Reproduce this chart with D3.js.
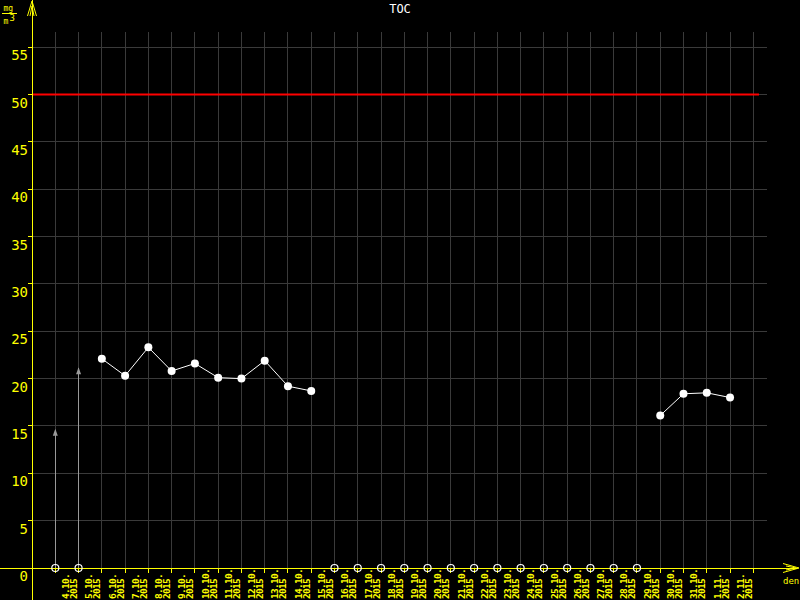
<!DOCTYPE html>
<html>
<head>
<meta charset="utf-8">
<script src="https://cdn.jsdelivr.net/npm/d3@7"></script>
<style>
body { margin: 0; background: #000; }
svg { display: block; background: #000; }
</style>
</head>
<body>
<div id="graph"></div>
<script>
// day labels (one per measured day)
var days = ["4.10.", "5.10.", "6.10.", "7.10.", "8.10.", "9.10.", "10.10.", "11.10.", "12.10.", "13.10.",
	"14.10.", "15.10.", "16.10.", "17.10.", "18.10.", "19.10.", "20.10.", "21.10.", "22.10.", "23.10.",
	"24.10.", "25.10.", "26.10.", "27.10.", "28.10.", "29.10.", "30.10.", "31.10.", "1.11.", "2.11."];
var year = "2015";
// TOC values in mg/m3, null = no value
var values = [null, null, 22.1, 20.3, 23.3, 20.8, 21.6, 20.1, 20.0, 21.9,
	19.2, 18.7, null, null, null, null, null, null, null, null,
	null, null, null, null, null, null, 16.1, 18.4, 18.5, 18.0];
// grey arrows on the first two days
var arrows = [14.6, 21.1];
var limit = 50;
var yTicks = [0, 5, 10, 15, 20, 25, 30, 35, 40, 45, 50, 55];

var width = 800, height = 600;
var axisX = 32, axisY = 568;

var xScale = d3.scaleLinear().domain([0, 30]).range([55.3, 753.3]);
var yScale = d3.scaleLinear().domain([0, 55]).range([axisY, 47.2]);

var yellow = "#ffff00", grid = "#3a3a3a";
var mono = "'DejaVu Sans Mono', monospace";

var svg = d3.select("div#graph").append("svg")
	.attr("width", width)
	.attr("height", height);

// grid
svg.append("g").selectAll("line").data(d3.range(0, 31)).enter().append("line")
	.attr("x1", function(d) { return xScale(d); })
	.attr("x2", function(d) { return xScale(d); })
	.attr("y1", 32).attr("y2", axisY)
	.attr("stroke", grid).attr("stroke-width", 1).attr("shape-rendering", "crispEdges");
svg.append("g").selectAll("line").data(yTicks.slice(1)).enter().append("line")
	.attr("x1", axisX).attr("x2", 766.5)
	.attr("y1", function(d) { return yScale(d); })
	.attr("y2", function(d) { return yScale(d); })
	.attr("stroke", grid).attr("stroke-width", 1).attr("shape-rendering", "crispEdges");

// limit line
svg.append("line")
	.attr("x1", axisX).attr("x2", 759)
	.attr("y1", yScale(limit)).attr("y2", yScale(limit))
	.attr("stroke", "#ff0000").attr("stroke-width", 2);

// grey arrows
var ag = svg.append("g");
arrows.forEach(function(v, i) {
	ag.append("line")
		.attr("x1", xScale(i)).attr("x2", xScale(i))
		.attr("y1", yScale(0)).attr("y2", yScale(v))
		.attr("stroke", "#999").attr("stroke-width", 1).attr("shape-rendering", "crispEdges");
	ag.append("path")
		.attr("d", "M" + (xScale(i) - 2.5) + "," + (yScale(v) + 6) + "L" + xScale(i) + "," + (yScale(v) - 1) +
			"L" + (xScale(i) + 2.5) + "," + (yScale(v) + 6) + "Z")
		.attr("fill", "#999");
});

// axes
svg.append("line").attr("x1", axisX).attr("x2", axisX).attr("y1", 0).attr("y2", height)
	.attr("stroke", yellow).attr("shape-rendering", "crispEdges");
svg.append("line").attr("x1", 0).attr("x2", 797).attr("y1", axisY).attr("y2", axisY)
	.attr("stroke", yellow).attr("shape-rendering", "crispEdges");
svg.append("path").attr("d", "M27.5,16L32,1L36.5,16M30,16L32,6L34,16")
	.attr("fill", "none").attr("stroke", yellow);
svg.append("path").attr("d", "M783,563.5L799,568L783,572.5M786,566L796,568L786,570")
	.attr("fill", "none").attr("stroke", yellow);

// y ticks and labels
svg.append("g").selectAll("line").data(yTicks).enter().append("line")
	.attr("x1", axisX - 4).attr("x2", axisX)
	.attr("y1", function(d) { return yScale(d); })
	.attr("y2", function(d) { return yScale(d); })
	.attr("stroke", yellow).attr("shape-rendering", "crispEdges");
svg.append("g").selectAll("text").data(yTicks).enter().append("text")
	.attr("x", 28)
	.attr("y", function(d) { return yScale(d) + 13; })
	.attr("text-anchor", "end")
	.attr("fill", yellow)
	.style("font-family", mono).style("font-size", "14px")
	.text(function(d) { return d; });

// x ticks and labels
svg.append("g").selectAll("line").data(d3.range(0, 31)).enter().append("line")
	.attr("x1", function(d) { return xScale(d); })
	.attr("x2", function(d) { return xScale(d); })
	.attr("y1", axisY).attr("y2", axisY + 5)
	.attr("stroke", yellow).attr("shape-rendering", "crispEdges");
var xl = svg.append("g").selectAll("g").data(days).enter().append("g")
	.attr("transform", function(d, i) { return "translate(" + xScale(i + 1) + ",599) rotate(-90)"; });
xl.append("text").attr("x", 0).attr("y", -9.5)
	.attr("fill", yellow).style("font-family", mono).style("font-size", "9.5px")
	.style("font-weight", "bold").style("letter-spacing", "-0.7px")
	.text(function(d) { return d; });
xl.append("text").attr("x", 0).attr("y", -1.5)
	.attr("fill", yellow).style("font-family", mono).style("font-size", "9.5px")
	.style("font-weight", "bold").style("letter-spacing", "-0.7px")
	.text(year);

// axis names
svg.append("text").attr("x", 783).attr("y", 584)
	.attr("fill", yellow).style("font-family", mono).style("font-size", "9px").text("den");
svg.append("text").attr("x", 3.5).attr("y", 10.5)
	.attr("fill", yellow).style("font-family", mono).style("font-size", "8px").text("mg");
svg.append("line").attr("x1", 2).attr("x2", 17).attr("y1", 13.5).attr("y2", 13.5)
	.attr("stroke", yellow).attr("shape-rendering", "crispEdges");
svg.append("text").attr("x", 3.5).attr("y", 23.5)
	.attr("fill", yellow).style("font-family", mono).style("font-size", "8px").text("m");
svg.append("text").attr("x", 9.5).attr("y", 21)
	.attr("fill", yellow).style("font-family", mono).style("font-size", "9px").text("3");

// title
svg.append("text").attr("x", 400).attr("y", 12.5).attr("text-anchor", "middle")
	.attr("fill", "#fff").style("font-family", mono).style("font-size", "12px").text("TOC");

// markers for days without value
svg.append("g").selectAll("circle")
	.data(values.map(function(v, i) { return {i: i, v: v}; }).filter(function(d) { return d.v === null; }))
	.enter().append("circle")
	.attr("cx", function(d) { return xScale(d.i); })
	.attr("cy", yScale(0))
	.attr("r", 3.5)
	.attr("fill", "none").attr("stroke", "#fff").attr("stroke-width", 1.2);

// data line and points
var line = d3.line()
	.defined(function(d) { return d !== null; })
	.x(function(d, i) { return xScale(i); })
	.y(function(d) { return yScale(d); });
svg.append("path").datum(values)
	.attr("d", line)
	.attr("fill", "none").attr("stroke", "#fff").attr("stroke-width", 1);
svg.append("g").selectAll("circle")
	.data(values.map(function(v, i) { return {i: i, v: v}; }).filter(function(d) { return d.v !== null; }))
	.enter().append("circle")
	.attr("cx", function(d) { return xScale(d.i); })
	.attr("cy", function(d) { return yScale(d.v); })
	.attr("r", 4)
	.attr("fill", "#fff");
</script>
</body>
</html>
